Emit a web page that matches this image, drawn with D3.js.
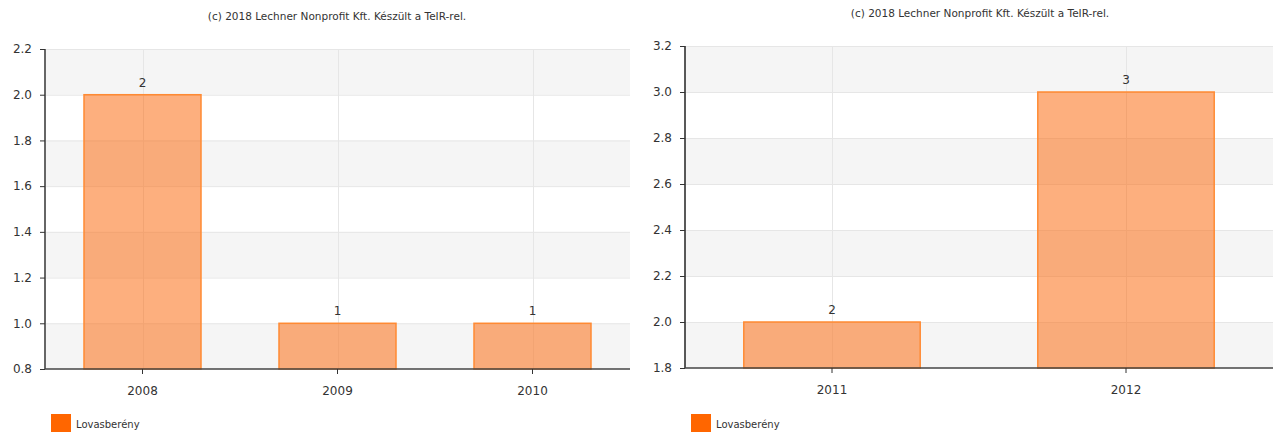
<!DOCTYPE html>
<head>
  <meta charset="utf-8">
  <script src="https://d3js.org/d3.v7.min.js"></script>
  <style>
    body { margin:0; background:#fff; }
    text { font-family: "DejaVu Sans", Verdana, sans-serif; fill:#333; }
  </style>
</head>
<body>
<script>
  const credit = '(c) 2018 Lechner Nonprofit Kft. Készült a TeIR-rel.';
  const seriesName = 'Lovasberény';

  // left chart
  const yearsA = ['2008', '2009', '2010'];
  const valuesA = [2, 1, 1];
  const ticksA = [0.8, 1.0, 1.2, 1.4, 1.6, 1.8, 2.0, 2.2];

  // right chart
  const yearsB = ['2011', '2012'];
  const valuesB = [2, 3];
  const ticksB = [1.8, 2.0, 2.2, 2.4, 2.6, 2.8, 3.0, 3.2];

  const svg = d3.select('body').append('svg')
    .attr('width', 1273).attr('height', 432);

  function drawChart(cfg) {
    const g = svg.append('g');
    const x = d3.scaleBand().domain(cfg.years).range([cfg.x0, cfg.x1]).paddingInner(0);
    const y = d3.scaleLinear().domain([cfg.ticks[0], cfg.ticks[cfg.ticks.length - 1]]).range([cfg.y1, cfg.y0]);

    // alternating bands
    for (let i = 0; i < cfg.ticks.length - 1; i++) {
      if ((cfg.ticks.length - 2 - i) % 2 === 0) {
        g.append('rect')
          .attr('x', cfg.x0).attr('width', cfg.x1 - cfg.x0)
          .attr('y', y(cfg.ticks[i + 1])).attr('height', y(cfg.ticks[i]) - y(cfg.ticks[i + 1]))
          .attr('fill', '#f5f5f5');
      }
    }
    // horizontal grid
    g.selectAll('.hg').data(cfg.ticks.slice(1)).enter().append('line')
      .attr('x1', cfg.x0).attr('x2', cfg.x1)
      .attr('y1', d => y(d) + 0.5).attr('y2', d => y(d) + 0.5)
      .attr('stroke', '#e6e6e6');
    // vertical grid
    g.selectAll('.vg').data(cfg.years).enter().append('line')
      .attr('x1', d => Math.round(x(d) + x.bandwidth() / 2) + 0.5)
      .attr('x2', d => Math.round(x(d) + x.bandwidth() / 2) + 0.5)
      .attr('y1', cfg.y0).attr('y2', cfg.y1)
      .attr('stroke', '#e6e6e6');

    // bars
    const bw = x.bandwidth() * 0.6;
    g.selectAll('.bar').data(cfg.values).enter().append('rect')
      .attr('x', (d, i) => x(cfg.years[i]) + (x.bandwidth() - bw) / 2)
      .attr('width', bw)
      .attr('y', d => y(d))
      .attr('height', d => y(cfg.ticks[0]) - y(d))
      .attr('fill', 'rgba(252,110,20,0.55)')
      .attr('stroke', '#ff8a33')
      .attr('stroke-width', 1.5);

    g.selectAll('.lbl').data(cfg.values).enter().append('text')
      .attr('x', (d, i) => x(cfg.years[i]) + x.bandwidth() / 2)
      .attr('y', d => y(d) - 8)
      .attr('text-anchor', 'middle')
      .style('font-size', '12px')
      .text(d => d);

    // y axis
    const ya = g.append('g').attr('transform', `translate(${cfg.x0},0)`)
      .call(d3.axisLeft(y).tickValues(cfg.ticks).tickFormat(d3.format('.1f')).tickSize(5).tickPadding(8));
    ya.select('.domain').attr('stroke', cfg.axisColor).attr('stroke-width', cfg.axisWidth).attr('d', `M0,${cfg.y0}V${cfg.y1}`);
    ya.selectAll('.tick line').attr('stroke', '#333');
    ya.selectAll('text').style('font-size', '12px').attr('fill', '#333');

    // x axis
    const xa = g.append('g').attr('transform', `translate(0,${cfg.y1})`)
      .call(d3.axisBottom(x).tickSize(5).tickPadding(12));
    xa.select('.domain').attr('stroke', '#444').attr('stroke-width', 1.5).attr('d', `M${cfg.x0},0H${cfg.x1}`);
    xa.selectAll('.tick line').attr('stroke', '#333');
    xa.selectAll('text').style('font-size', '12px').attr('fill', '#333');

    // credit
    g.append('text').attr('x', cfg.titleX).attr('y', cfg.titleY)
      .attr('text-anchor', 'middle').style('font-size', '10.5px').text(credit);

    // legend
    g.append('rect').attr('x', cfg.x0 + 6).attr('y', 414).attr('width', 20).attr('height', 18)
      .attr('fill', '#ff6600');
    g.append('text').attr('x', cfg.x0 + 31).attr('y', 428)
      .style('font-size', '10px').text(seriesName);
  }

  drawChart({ years: yearsA, values: valuesA, ticks: ticksA, axisColor: '#666', axisWidth: 2,
    x0: 45, x1: 630, y0: 49, y1: 369, titleX: 337, titleY: 20 });
  drawChart({ years: yearsB, values: valuesB, ticks: ticksB, axisColor: '#222', axisWidth: 1.5,
    x0: 685, x1: 1273, y0: 46, y1: 368, titleX: 980, titleY: 17 });
</script>
</body>
